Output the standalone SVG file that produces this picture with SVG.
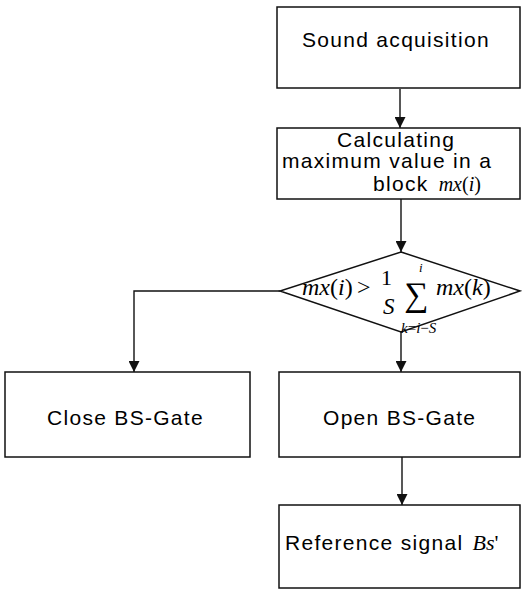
<svg xmlns="http://www.w3.org/2000/svg" width="522" height="591" viewBox="0 0 522 591">
  <style>
    .box { fill: #fff; stroke: #111; stroke-width: 1.5; }
    .lbl { font-family: "Liberation Sans", Arial, sans-serif; font-size: 21px; letter-spacing: 1.3px; fill: #000; }
    .math { font-family: "Liberation Serif", "Times New Roman", serif; font-style: italic; fill: #000; letter-spacing: 0; }
    .up { font-family: "Liberation Serif", "Times New Roman", serif; font-style: normal; fill: #000; letter-spacing: 0; }
    .wire { fill: none; stroke: #111; stroke-width: 1.4; }
  </style>
  <defs>
    <marker id="arrow" viewBox="0 0 10 10" refX="10" refY="5" markerWidth="11" markerHeight="11" markerUnits="userSpaceOnUse" orient="auto">
      <path d="M0,0 L10,5 L0,10 Z" fill="#111"/>
    </marker>
  </defs>
  <rect width="522" height="591" fill="#fff"/>

  <!-- connectors -->
  <g id="connectors">
    <line class="wire" x1="400" y1="89" x2="400" y2="128" marker-end="url(#arrow)"/>
    <line class="wire" x1="401" y1="199" x2="401" y2="252" marker-end="url(#arrow)"/>
    <polyline class="wire" points="280,291 134,291 134,372" marker-end="url(#arrow)"/>
    <line class="wire" x1="401" y1="332" x2="401" y2="372" marker-end="url(#arrow)"/>
    <line class="wire" x1="402" y1="457" x2="402" y2="505" marker-end="url(#arrow)"/>
  </g>

  <!-- start: sound acquisition -->
  <g id="sound-acquisition">
    <rect class="box" x="277" y="7" width="243" height="81"/>
    <text class="lbl" x="302" y="47">Sound acquisition</text>
  </g>

  <!-- block maximum -->
  <g id="block-maximum">
    <rect class="box" x="277" y="128" width="243" height="71"/>
    <text class="lbl" x="337" y="147">Calculating</text>
    <text class="lbl" x="282" y="168">maximum value in a</text>
    <text class="lbl" x="373" y="191">block <tspan class="math" font-size="20" dx="3">mx</tspan><tspan class="up" font-size="20">(</tspan><tspan class="math" font-size="20">i</tspan><tspan class="up" font-size="20">)</tspan></text>
  </g>

  <!-- decision: block maximum above running mean -->
  <g id="decision">
    <polygon class="box" points="401,252 520,291 401,332 280,291"/>
    <text class="math" x="302" y="295" font-size="24">mx<tspan class="up">(</tspan>i<tspan class="up">)</tspan></text>
    <text class="up" x="357" y="295" font-size="24">&gt;</text>
    <text class="up" x="381" y="285" font-size="22">1</text>
    <text class="math" x="383" y="314" font-size="23">S</text>
    <text class="up" x="404" y="306" font-size="34">∑</text>
    <text class="math" x="419" y="272" font-size="13">i</text>
    <text class="math" x="401" y="333" font-size="15">k<tspan class="up">=</tspan>i<tspan class="up">−</tspan>S</text>
    <text class="math" x="436" y="295" font-size="24">mx<tspan class="up">(</tspan>k<tspan class="up">)</tspan></text>
  </g>

  <!-- no branch -->
  <g id="close-gate">
    <rect class="box" x="5" y="372" width="245" height="85"/>
    <text class="lbl" x="47" y="425">Close BS-Gate</text>
  </g>

  <!-- yes branch -->
  <g id="open-gate">
    <rect class="box" x="279" y="372" width="241" height="85"/>
    <text class="lbl" x="323" y="425">Open BS-Gate</text>
  </g>

  <!-- output -->
  <g id="reference-signal">
    <rect class="box" x="279" y="505" width="241" height="83"/>
    <text class="lbl" x="285" y="550">Reference signal <tspan class="math" font-size="22" dx="2">Bs</tspan><tspan class="up" font-size="22">'</tspan></text>
  </g>
</svg>
